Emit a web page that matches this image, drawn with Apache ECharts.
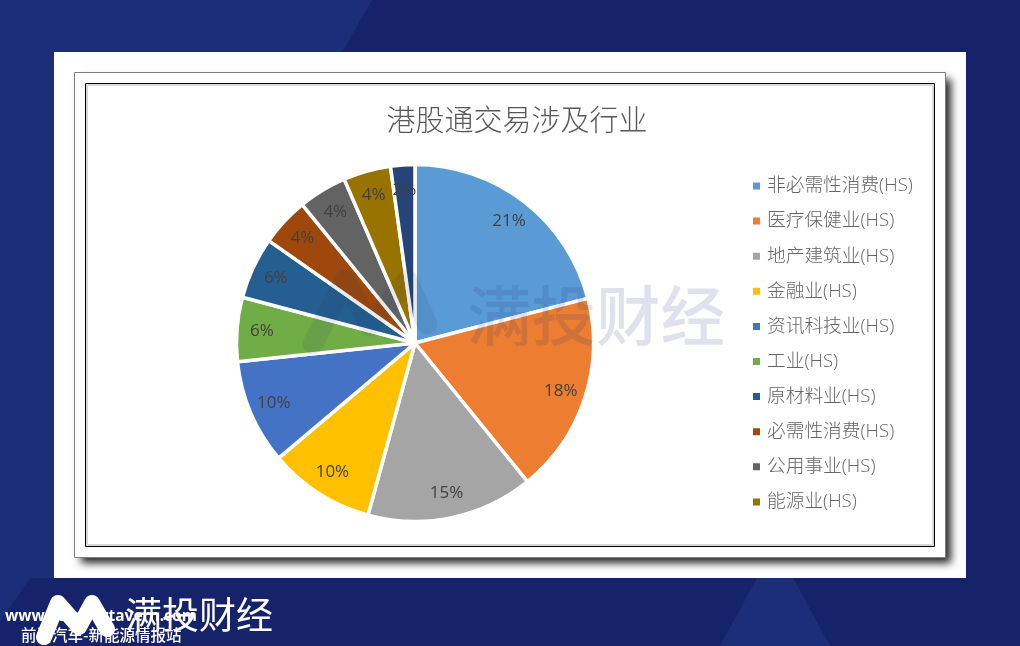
<!DOCTYPE html>
<html>
<head>
<meta charset="utf-8">
<title>港股通交易涉及行业</title>
<script src="https://cdn.jsdelivr.net/npm/echarts@6/dist/echarts.min.js"></script>
<style>
  html, body { margin: 0; padding: 0; background: #16236a; }
  #chart { width: 1020px; height: 646px; }
</style>
</head>
<body>
<div id="chart"></div>
<script>
const chartTitle = '港股通交易涉及行业'
const categories = ['非必需性消费(HS)', '医疗保健业(HS)', '地产建筑业(HS)', '金融业(HS)', '资讯科技业(HS)', '工业(HS)', '原材料业(HS)', '必需性消费(HS)', '公用事业(HS)', '能源业(HS)', '综合企业(HS)']
const shares = [21.0, 18.2, 15.1, 9.6, 9.5, 5.8, 5.6, 4.4, 4.4, 4.3, 2.2]
const colors = ['#5b9bd5', '#ed7d31', '#a5a5a5', '#ffc000', '#4472c4', '#70ad47', '#255e91', '#9e480e', '#636363', '#997300', '#264478']
// the reference legend is cut off before the last slice
const legendNames = categories.slice(0, 10)

const cjk = '"Open Sans", "Noto Sans CJK SC", sans-serif'
const blueLight = '#1c2e78'
const blueDark = '#16236a'

const pieData = categories.map((name, i) => ({ name, value: shares[i] }))

function rect(x, y, width, height, style, z) {
  return { type: 'rect', shape: { x, y, width, height }, style, z, silent: true }
}
function poly(points, fill, z) {
  return { type: 'polygon', shape: { points }, style: { fill }, z, silent: true }
}
function logo(points, stroke, lineWidth, opacity, z) {
  return {
    type: 'polyline',
    shape: { points },
    style: { fill: 'none', stroke, lineWidth, lineCap: 'round', lineJoin: 'round', opacity },
    z,
    silent: true,
  }
}
function label(x, y, text, font, fill, z, extra) {
  return {
    type: 'text',
    x,
    y,
    style: Object.assign({ text, font, fill, textVerticalAlign: 'middle' }, extra),
    z,
    silent: true,
  }
}

const chart = echarts.init(document.getElementById('chart'))
chart.setOption({
  animation: false,
  backgroundColor: blueDark,
  color: colors,
  title: {
    text: chartTitle,
    left: 512,
    top: 103,
    textAlign: 'center',
    textStyle: { color: '#595959', fontSize: 29, fontWeight: 300, fontFamily: cjk },
  },
  legend: {
    data: legendNames,
    orient: 'vertical',
    left: 746,
    top: 170,
    icon: 'rect',
    itemWidth: 9,
    itemHeight: 9,
    itemGap: 13.1,
    selectedMode: false,
    textStyle: { color: '#666', fontSize: 18.7, fontFamily: cjk, fontWeight: 300, lineHeight: 22, padding: [0, 0, 0, 1] },
  },
  series: [
    {
      type: 'pie',
      center: [415, 343],
      radius: [0, 178.5],
      startAngle: 90,
      data: pieData,
      label: { show: false },
      labelLine: { show: false },
      itemStyle: { borderColor: '#fff', borderWidth: 3.5 },
      emphasis: { disabled: true },
      z: 2,
    },
    {
      // transparent ring, only here to put the labels near the outer edge
      type: 'pie',
      center: [415, 343],
      radius: [124, 177],
      startAngle: 90,
      data: pieData,
      silent: true,
      legendHoverLink: false,
      itemStyle: { color: 'transparent', borderWidth: 0 },
      label: {
        show: true,
        position: 'inside',
        color: '#404040',
        fontSize: 17,
        fontFamily: cjk,
        padding: [10, 0, 0, 0],
        formatter: p => Math.round(p.value) + '%',
      },
      labelLine: { show: false },
      emphasis: { disabled: true },
      z: 3,
    },
  ],
  graphic: {
    elements: [
      // page backdrop
      rect(0, 0, 1020, 646, { fill: blueDark }, -20),
      poly([[0, 0], [372, 0], [342, 52], [54, 52], [54, 578], [30, 578], [0, 622]], blueLight, -19),
      poly([[757, 578], [793, 578], [830, 646], [720, 646]], blueLight, -19),
      // white card and chart frame
      rect(54, 52, 912, 526, { fill: '#fff' }, -18),
      rect(75, 73, 870, 484, {
        fill: '#fff',
        shadowColor: 'rgba(0,0,0,0.85)',
        shadowBlur: 8,
        shadowOffsetX: 6,
        shadowOffsetY: 6,
      }, -17),
      rect(74.5, 72.5, 871, 485, { fill: 'none', stroke: '#7f7f7f', lineWidth: 1 }, -16),
      rect(87, 85, 846, 460, { fill: 'none', stroke: '#d9d9d9', lineWidth: 2 }, -15),
      rect(85.5, 83.5, 849, 463, { fill: 'none', stroke: '#000', lineWidth: 1 }, -14),
      // watermark
      logo([[313, 344], [345, 280], [370, 326], [407, 280], [427, 324]], '#1c2e58', 21, 0.1, 20),
      label(467, 315, '满投财经', '500 64.5px "Noto Sans CJK SC", sans-serif', 'rgba(28,40,120,0.14)', 20),
      // footer
      label(5, 617, 'www.autocartavern.com', 'bold 15.5px "Noto Sans", sans-serif', '#fff', 20),
      logo([[44, 637], [58, 603], [79, 627], [92, 603], [107, 629]], '#fff', 16, 1, 21),
      label(125, 615, '满投财经', '400 37px "Noto Sans CJK SC", sans-serif', '#fff', 22),
      label(21, 635, '前沿汽车-新能源情报站', '500 15.5px "Noto Sans CJK SC", sans-serif', '#fff', 23),
    ],
  },
})
</script>
</body>
</html>
